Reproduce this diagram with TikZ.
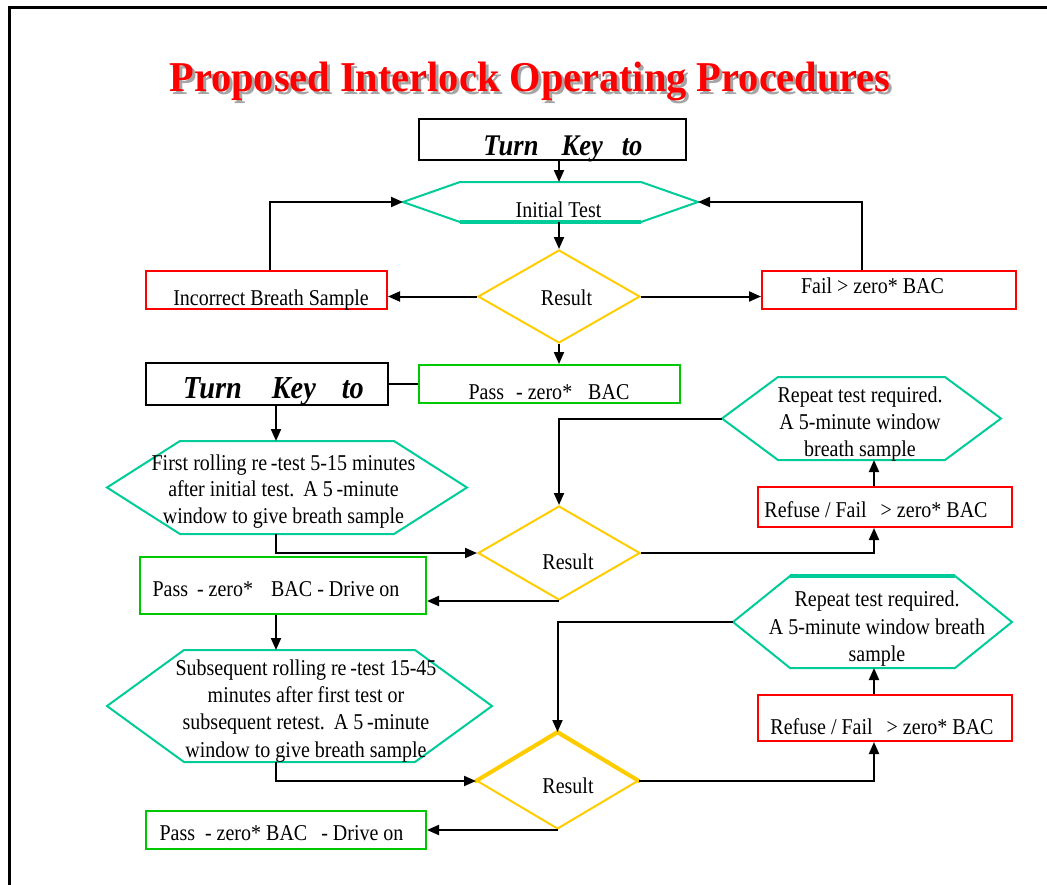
\documentclass[tikz,border=0pt]{standalone}
\usepackage{fontspec}
\setmainfont{Liberation Serif}[FakeStretch=0.885]
\newfontfamily\headfont{Liberation Serif}[FakeStretch=0.95]
\usetikzlibrary{shapes.geometric,arrows.meta}

\definecolor{hexteal}{RGB}{0,204,153}
\definecolor{decgold}{RGB}{255,204,0}
\definecolor{failred}{RGB}{255,0,0}
\definecolor{passgreen}{RGB}{0,200,0}
\definecolor{titlered}{RGB}{255,0,0}
\definecolor{shadowgray}{RGB}{165,165,165}

% hexagon outline around a (borderless) rectangular node; #2 = length of the pointed ends
\newcommand\hexoutline[2]{%
  \draw[hexline] (#1.west) -- ([xshift=#2]#1.north west) -- ([xshift=-#2]#1.north east)
    -- (#1.east) -- ([xshift=-#2]#1.south east) -- ([xshift=#2]#1.south west) -- cycle;}

\begin{document}
\begin{tikzpicture}[x=1pt,y=-1pt,
  keybox/.style={rectangle, draw=black, line width=2pt, inner sep=0pt},
  failbox/.style={rectangle, draw=failred, line width=2pt, inner sep=0pt},
  passbox/.style={rectangle, draw=passgreen, line width=2pt, inner sep=0pt},
  decision/.style={diamond, draw=decgold, line width=2pt, inner sep=0pt},
  hexarea/.style={rectangle, inner sep=0pt, outer sep=0pt},
  hexline/.style={draw=hexteal, line width=2pt, line join=miter},
  txt/.style={font=\fontsize{22.6}{26.8}\selectfont, inner sep=0pt, align=center},
  keytxt/.style={font=\bfseries\itshape\fontsize{30}{34}\selectfont, inner sep=0pt},
  flow/.style={line width=2pt, -{Triangle[length=12pt,width=10pt]}},
  link/.style={line width=2pt}]
\useasboundingbox (0,0) rectangle (1047,884);

% page frame
\draw[line width=3pt] (9,890) -- (9,7.5) -- (1060,7.5);

% title with drop shadow
\node[font=\headfont\bfseries\fontsize{42.5}{48}\selectfont, text=shadowgray, inner sep=0pt, anchor=base]
  (title-shadow) at (533,94) {Proposed Interlock Operating Procedures};
\node[font=\headfont\bfseries\fontsize{42.5}{48}\selectfont, text=titlered, inner sep=0pt, anchor=base]
  (title) at (530,91) {Proposed Interlock Operating Procedures};

% column guides for the vertical connectors
\coordinate (spine) at (276,0);
\coordinate (rcol) at (874,0);

% ---- shapes ----
\node[keybox, minimum width=267pt, minimum height=41pt] (tk1) at (552.5,139.5) {};
\node[hexarea, minimum width=295pt, minimum height=40pt] (it) at (550.5,202) {};
\hexoutline{it}{57}
\draw[hexteal, line width=4pt] ([xshift=57]it.south west) -- ([xshift=-57]it.south east);
\node[decision, minimum width=162pt, minimum height=93pt] (r1) at (559,296.5) {};
\node[failbox, minimum width=241pt, minimum height=38pt] (inc) at (266.5,290) {};
\node[failbox, minimum width=254pt, minimum height=38pt] (fail) at (889,290) {};
\node[keybox, minimum width=242pt, minimum height=42pt] (tk2) at (267,384) {};
\node[passbox, minimum width=261pt, minimum height=38pt] (pass1) at (549.5,384) {};

\node[hexarea, minimum width=360pt, minimum height=93pt] (fr) at (287,487.5) {};
\hexoutline{fr}{73}
\node[passbox, minimum width=286pt, minimum height=57pt] (pass2) at (283,585.5) {};
\node[decision, minimum width=162pt, minimum height=94pt] (r2) at (559,553) {};
\node[hexarea, minimum width=279pt, minimum height=83pt] (rep1) at (861.5,418.5) {};
\hexoutline{rep1}{56}
\node[failbox, minimum width=254pt, minimum height=40pt] (ref1) at (885,507) {};

\node[hexarea, minimum width=385pt, minimum height=112pt] (sub) at (299.5,706) {};
\hexoutline{sub}{77}
\node[decision, minimum width=161pt, minimum height=96pt] (r3) at (557.5,781) {};
\draw[decgold, line width=4pt, line cap=round] (r3.west) -- (r3.north) -- (r3.east);
\node[hexarea, minimum width=279pt, minimum height=92pt] (rep2) at (872.5,622) {};
\hexoutline{rep2}{57}
\draw[hexteal, line width=4pt] ([xshift=57]rep2.north west) -- ([xshift=-57]rep2.north east);
\node[failbox, minimum width=254pt, minimum height=46pt] (ref2) at (885,718) {};
\node[passbox, minimum width=280pt, minimum height=38pt] (pass3) at (286,830) {};

% ---- texts ----
\node[keytxt, anchor=base] (tk1-txt) at (563,155) {Turn\hspace{23pt}Key\hspace{19pt}to};
\node[txt, anchor=base] (it-txt) at (558.5,217) {Initial Test};
\node[txt, anchor=base] (r1-txt) at (566.5,305) {Result};
\node[txt, anchor=base] (inc-txt) at (271,305) {Incorrect Breath Sample};
\node[txt, anchor=base] (fail-txt) at (872.5,293) {Fail > zero* BAC};
\node[keytxt, font=\bfseries\itshape\fontsize{32}{36}\selectfont, anchor=base] (tk2-txt) at (273.5,398)
  {Turn\hspace{30pt}Key\hspace{26pt}to};
\node[txt, anchor=base] (pass1-txt) at (549,399) {Pass\hspace{12pt}- zero*\hspace{16pt}BAC};

\node[txt] (fr-txt) at (283.5,491.5)
  {First rolling re\,-test 5-15 minutes\\after initial test.\hspace{9pt}A 5\,-minute\\window to give breath sample};
\node[txt, anchor=base] (pass2-txt) at (276,596.7) {Pass\hspace{9pt}- zero*\hspace{18pt}BAC - Drive on};
\node[txt, anchor=base] (r2-txt) at (568,569) {Result};
\node[txt] (rep1-txt) at (860,424)
  {Repeat test required.\\A 5-minute window\\breath sample};
\node[txt, anchor=base] (ref1-txt) at (876,517) {Refuse / Fail\hspace{14pt}> zero* BAC};

\node[txt, font=\fontsize{22.6}{27.3}\selectfont] (sub-txt) at (306,710.7)
  {Subsequent rolling re\,-test 15-45\\minutes after first test or\\subsequent retest.\hspace{9pt}A 5\,-minute\\window to give breath sample};
\node[txt, anchor=base] (r3-txt) at (568,793) {Result};
\node[txt, font=\fontsize{22.6}{27.2}\selectfont] (rep2-txt) at (877,628.7)
  {Repeat test required.\\A 5-minute window breath\\sample};
\node[txt, anchor=base] (ref2-txt) at (882,734) {Refuse / Fail\hspace{14pt}> zero* BAC};
\node[txt, anchor=base] (pass3-txt) at (281.5,840) {Pass\hspace{10pt}- zero* BAC\hspace{14pt}- Drive on};

% ---- connectors ----
\draw[flow] (tk1.south -| r1.north) -- (it.north -| r1.north);
\draw[flow] (it.south -| r1.north) -- (r1.north);
\draw[flow] (r1.west) -- (r1.west -| inc.east);
\draw[flow] (r1.east) -- (r1.east -| fail.west);
\draw[flow] ([xshift=-27pt]fail.north) |- (it.east);
\draw[flow] ([xshift=3.5pt]inc.north) |- (it.west);
\draw[flow] (r1.south) -- (pass1.north -| r1.south);
\draw[link] (tk2.east) -- (pass1.west);

\draw[flow] (tk2.south -| spine) -- (fr.north -| spine);
\draw[flow] (fr.south -| spine) |- (r2.west);
\draw[flow] (r2.south) -- (r2.south -| pass2.east);
\draw[flow] (r2.east) -| (ref1.south -| rcol);
\draw[flow] (ref1.north -| rcol) -- (rep1.south -| rcol);
\draw[flow] (rep1.west) -| (r2.north);

\draw[flow] (pass2.south -| spine) -- (sub.north -| spine);
\draw[flow] (sub.south -| spine) |- (r3.west);
\draw[flow] (r3.south) -- (r3.south -| pass3.east);
\draw[flow] (r3.east) -| (ref2.south -| rcol);
\draw[flow] (ref2.north -| rcol) -- (rep2.south -| rcol);
\draw[flow] (rep2.west) -| (r3.north);
\end{tikzpicture}
\end{document}
